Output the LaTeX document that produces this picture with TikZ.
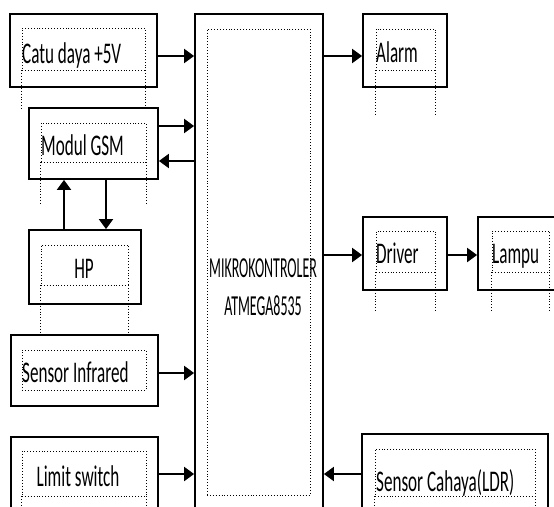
\documentclass[tikz,border=0pt]{standalone}
\usepackage{fontspec}
\newfontfamily\blokfont{Carlito}[FakeStretch=0.57]
\newfontfamily\mcufont{Carlito}[FakeStretch=0.48]
\usetikzlibrary{arrows.meta}

\begin{document}
\begin{tikzpicture}[x=1pt, y=-1pt,
    blok/.style={rectangle, draw=black, line width=1.8pt, inner sep=0pt},
    bingkai/.style={rectangle, draw=black, dotted, line width=0.9pt, inner sep=0pt},
    kaki/.style={dotted, line width=0.9pt},
    teks/.style={font=\blokfont\fontsize{30}{32}\selectfont, inner sep=0pt},
    mcuteks/.style={font=\mcufont\fontsize{29}{31}\selectfont, inner sep=0pt},
    panah/.style={-{Triangle[length=10pt, width=14pt]}, line width=2pt}]

    \useasboundingbox (0,0) rectangle (554,506);

    % Outer blocks
    \node[blok, minimum width=147pt, minimum height=73pt] (catu) at (83.5,50.5) {};
    \node[blok, minimum width=129pt, minimum height=71pt] (gsm) at (93.5,143.5) {};
    \node[blok, minimum width=112pt, minimum height=74pt] (hp) at (85,267) {};
    \node[blok, minimum width=147pt, minimum height=71pt] (infra) at (84.5,370.5) {};
    \node[blok, minimum width=147pt, minimum height=83pt] (limit) at (84.5,478.5) {};
    \node[blok, minimum width=128pt, minimum height=506pt] (mcu) at (259,267) {};
    \node[blok, minimum width=84pt, minimum height=73pt] (alarm) at (405,50.5) {};
    \node[blok, minimum width=84pt, minimum height=73pt] (driver) at (405,253.5) {};
    \node[blok, minimum width=92pt, minimum height=73pt] (lampu) at (524,253.5) {};
    \node[blok, minimum width=186pt, minimum height=86pt] (cahaya) at (455,477) {};

    % Dotted text frames
    \node[bingkai, minimum width=123pt, minimum height=42pt] (catu-in) at (83.5,49) {};
    \node[bingkai, minimum width=105pt, minimum height=39pt] (gsm-in) at (93.5,142.5) {};
    \node[bingkai, minimum width=87pt, minimum height=40pt] (hp-in) at (84.5,265) {};
    \node[bingkai, minimum width=124pt, minimum height=40pt] (infra-in) at (84,370) {};
    \node[bingkai, minimum width=124pt, minimum height=45pt] (limit-in) at (84,473.5) {};
    \node[bingkai, minimum width=103pt, minimum height=466pt] (mcu-in) at (258.5,262) {};
    \node[bingkai, minimum width=59pt, minimum height=41pt] (alarm-in) at (405.5,49.5) {};
    \node[bingkai, minimum width=59pt, minimum height=41pt] (driver-in) at (405.5,251.5) {};
    \node[bingkai, minimum width=57pt, minimum height=41pt] (lampu-in) at (520.5,251.5) {};
    \node[bingkai, minimum width=160pt, minimum height=47pt] (cahaya-in) at (455,472.5) {};

    % Dotted legs below the frames
    \foreach \f/\l in {catu-in/40, gsm-in/43, hp-in/47, alarm-in/45, driver-in/40,
                       lampu-in/40, limit-in/25, cahaya-in/25} {
        \draw[kaki] (\f.south west) -- ++(0,\l);
        \draw[kaki] (\f.south east) -- ++(0,\l);
    }

    % Labels
    \node[teks, anchor=base west] (catu-t) at (22,63) {Catu daya +5V};
    \node[teks, anchor=base west] (gsm-t) at (41,155) {Modul GSM};
    \node[teks, anchor=base] (hp-t) at (84,278) {HP};
    \node[teks, anchor=base west] (infra-t) at (22,382) {Sensor Infrared};
    \node[teks, anchor=base] (limit-t) at (78,486) {Limit switch};
    \node[teks, anchor=base west] (alarm-t) at (376,62) {Alarm};
    \node[teks, anchor=base west] (driver-t) at (376,263) {Driver};
    \node[teks, anchor=base west] (lampu-t) at (492,263) {Lampu};
    \node[teks, anchor=base west] (cahaya-t) at (376,491) {Sensor Cahaya(LDR)};
    \node[mcuteks, anchor=base] (mcu-t1) at (263,277) {MIKROKONTROLER};
    \node[mcuteks, anchor=base] (mcu-t2) at (263,315) {ATMEGA8535};

    % Connection points
    \coordinate (a1) at ([yshift=-5.5pt]catu.east);
    \coordinate (a2) at ([yshift=17.5pt]gsm.east);
    \coordinate (a3) at ([yshift=-17.5pt]gsm.east);
    \coordinate (a4) at ([yshift=-2.5pt]infra.east);
    \coordinate (a5) at ([yshift=4.5pt]limit.east);
    \coordinate (b1) at ([yshift=-5.5pt]alarm.west);
    \coordinate (b2) at ([yshift=-1.5pt]driver.west);
    \coordinate (b3) at ([yshift=3pt]cahaya.west);
    \coordinate (c1) at ([xshift=-21pt]hp.north);
    \coordinate (c2) at ([xshift=12.5pt]gsm.south);

    % Arrows
    \draw[panah] (a1) -- (a1 -| mcu.west);
    \draw[panah] (a2) -- (a2 -| mcu.west);
    \draw[panah] (a3 -| mcu.west) -- (a3);
    \draw[panah] (c1) -- (c1 |- gsm.south);
    \draw[panah] (c2) -- (c2 |- hp.north);
    \draw[panah] (a4) -- (a4 -| mcu.west);
    \draw[panah] (a5) -- (a5 -| mcu.west);
    \draw[panah] (b1 -| mcu.east) -- (b1);
    \draw[panah] (b2 -| mcu.east) -- (b2);
    \draw[panah] (driver.east |- b2) -- (lampu.west |- b2);
    \draw[panah] (b3) -- (b3 -| mcu.east);

\end{tikzpicture}
\end{document}
